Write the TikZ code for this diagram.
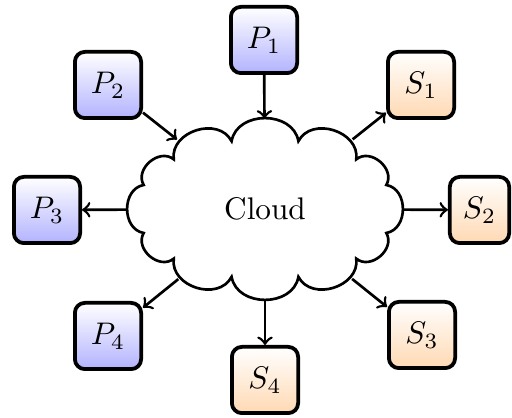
\documentclass[tikz,border=0pt]{standalone}
\usetikzlibrary{shapes.geometric}
\begin{document}
\begin{tikzpicture}[x=0.32pt,y=-0.32pt,
  boxbase/.style={draw, line width=1.2pt, rounded corners=3.2pt, minimum size=21.2pt, inner sep=0pt},
  pbox/.style={boxbase, top color=white, bottom color=blue!30},
  sbox/.style={boxbase, top color=white, bottom color=orange!30},
  conn/.style={->, line width=0.85pt},
  cloudline/.style={line width=0.85pt, fill=white, line join=miter},
  cloudshape/.style={ellipse, minimum width=87.5pt, minimum height=57.5pt, inner sep=0pt}]
\useasboundingbox (0,0) rectangle (512,418);
\begin{scope}[shift={(265,209)}]
\draw[cloudline] (20:129.1 and 70.2)
  \foreach \t in {45,75,105,135,160,200,225,255,285,315,340,380} { to[bend left=80, looseness=1.2] (\t:129.1 and 70.2) } -- cycle;
\end{scope}
\node[cloudshape] (cl) at (265,209) {Cloud};
\node[pbox] (p1) at (264,40) {$P_1$};
\node[pbox] (p2) at (108,85) {$P_2$};
\node[pbox] (p3) at (47,210) {$P_3$};
\node[pbox] (p4) at (108,336) {$P_4$};
\node[sbox] (s1) at (421,85) {$S_1$};
\node[sbox, minimum width=19pt] (s2) at (479.5,210) {$S_2$};
\node[sbox] (s3) at (422,335) {$S_3$};
\node[sbox] (s4) at (265,380) {$S_4$};
\draw[conn] (p1) -- (cl);
\draw[conn] (p2) -- (cl);
\draw[conn] (cl) -- (p3);
\draw[conn] (cl) -- (p4);
\draw[conn] (cl) -- (s1);
\draw[conn] (cl) -- (s2);
\draw[conn] (cl) -- (s3);
\draw[conn] (cl) -- (s4);
\end{tikzpicture}
\end{document}
